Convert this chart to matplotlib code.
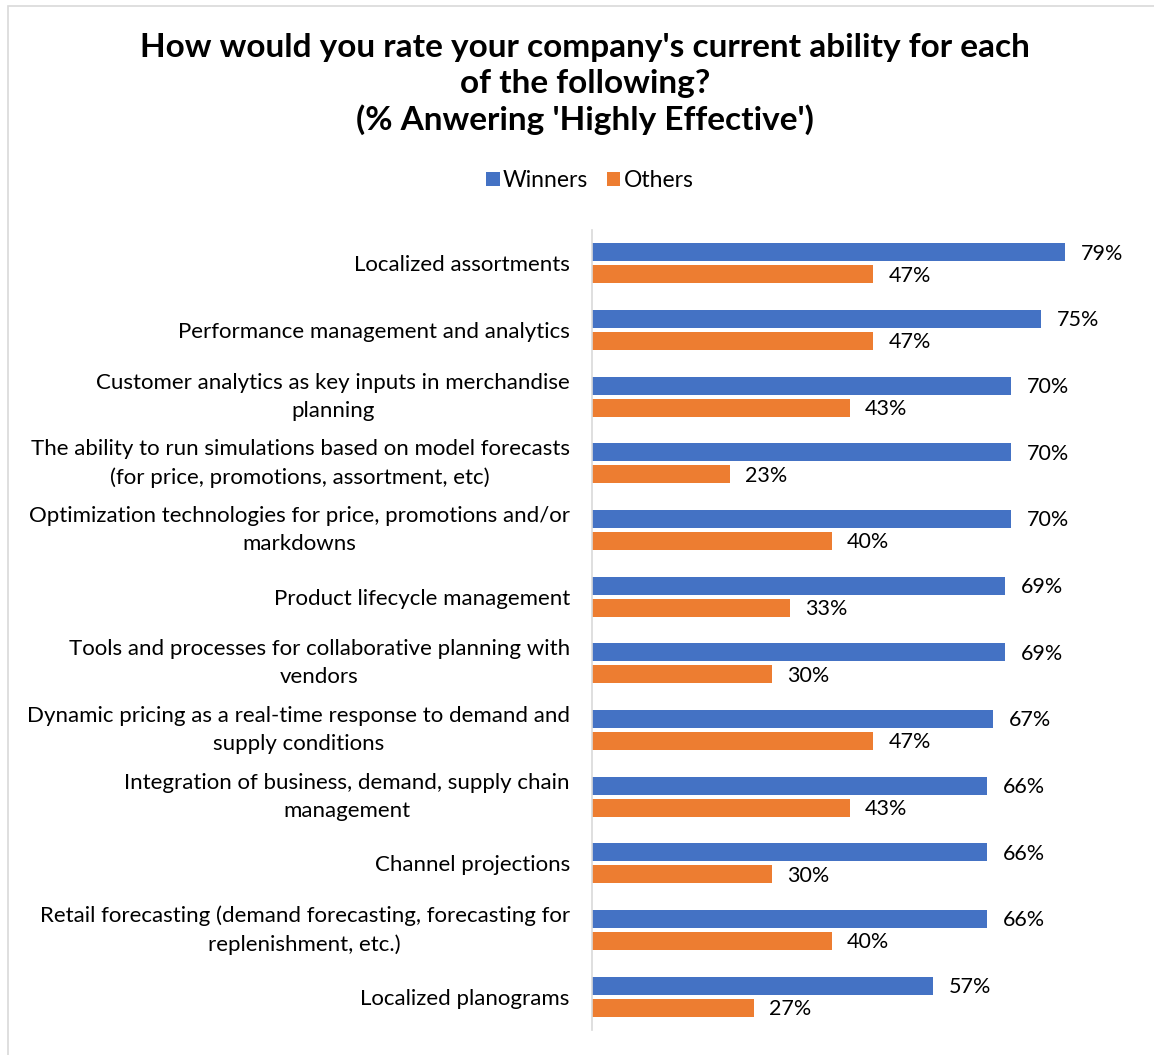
import matplotlib.pyplot as plt
import numpy as np
from matplotlib.patches import Rectangle

categories = [
    "Localized assortments",
    "Performance management and analytics",
    "Customer analytics as key inputs in merchandise\nplanning",
    "The ability to run simulations based on model forecasts\n(for price, promotions, assortment, etc)",
    "Optimization technologies for price, promotions and/or\nmarkdowns",
    "Product lifecycle management",
    "Tools and processes for collaborative planning with\nvendors",
    "Dynamic pricing as a real-time response to demand and\nsupply conditions",
    "Integration of business, demand, supply chain\nmanagement",
    "Channel projections",
    "Retail forecasting (demand forecasting, forecasting for\nreplenishment, etc.)",
    "Localized planograms",
]
winners = [79, 75, 70, 70, 70, 69, 69, 67, 66, 66, 66, 57]
others = [47, 47, 43, 23, 40, 33, 30, 47, 43, 30, 40, 27]

blue = '#4472C4'
orange = '#ED7D31'
plt.rcParams['font.family'] = ['Lato', 'DejaVu Sans']

fig = plt.figure(figsize=(11.54, 10.55), dpi=100)

# light grey frame round the chart area
fig.patches.append(Rectangle((8 / 1154, -0.1), 1.2, 1.1 - 6 / 1055, transform=fig.transFigure,
                             fill=False, ec='#D9D9D9', lw=1.2))

ax = fig.add_axes([592 / 1154, 25 / 1055, 539 / 1154, 800 / 1055])

y = np.arange(len(categories))
h = 0.27
gap = 0.06
b1 = ax.barh(y - (h + gap) / 2, winners, height=h, color=blue, label='Winners')
b2 = ax.barh(y + (h + gap) / 2, others, height=h, color=orange, label='Others')

for bars, vals in ((b1, winners), (b2, others)):
    for bar, v in zip(bars, vals):
        ax.annotate(f"{v}%", (bar.get_width(), bar.get_y() + bar.get_height() / 2),
                    xytext=(11, -1), textcoords='offset points', va='center', ha='left',
                    fontsize=15.5, color='black')

ax.set_xlim(0, 90)
ax.set_ylim(len(categories) - 0.5, -0.5)
ax.set_yticks(y)
ax.set_yticklabels(categories, fontsize=16, multialignment='center', linespacing=1.5)
# two-line labels sit centred on their bar pair
for t in ax.get_yticklabels():
    if '\n' in t.get_text():
        t.set_va('center')
ax.tick_params(axis='y', length=0, pad=16)
ax.set_xticks([])
for s in ('top', 'right', 'bottom'):
    ax.spines[s].set_visible(False)
ax.spines['left'].set_color('#D9D9D9')
ax.spines['left'].set_linewidth(1.2)

fig.text(0.507, 0.920, "How would you rate your company's current ability for each\nof the following?\n(% Anwering 'Highly Effective')",
         ha='center', va='center', fontsize=24, fontweight='bold', linespacing=1.27)

fig.legend(handles=[b1, b2], labels=['Winners', 'Others'], loc='center', bbox_to_anchor=(0.511, 0.829),
           ncol=2, frameon=False, fontsize=16.5, handlelength=0.6, handleheight=0.6,
           handletextpad=0.15, columnspacing=0.8)

fig.savefig('out.png', dpi=100)
